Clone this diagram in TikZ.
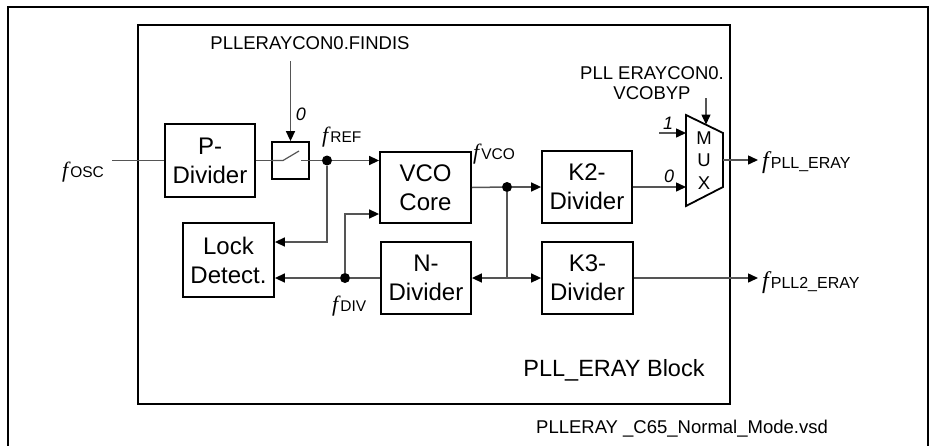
\documentclass[tikz,border=0pt]{standalone}
\usepackage{fontspec}
\setmainfont{Liberation Sans}
\newfontfamily\serifit{Liberation Serif}
\usetikzlibrary{arrows.meta,calc}
\definecolor{connc}{RGB}{85,85,85}
\newcommand\fq[3]{{\fontsize{#1}{#1}\selectfont\serifit\itshape f}\kern2pt{\fontsize{#2}{#2}\selectfont #3}}
\begin{document}
\begin{tikzpicture}[x=1pt,y=-1pt,
 blk/.style={draw,line width=1.8pt,inner sep=0pt,align=center,font=\fontsize{24}{29}\selectfont},
 conn/.style={draw=connc,line width=1.5pt},
 arr/.style={conn,-{Triangle[length=10pt,width=9pt,color=black]}},
 dot/.style={circle,fill=black,inner sep=0pt,minimum size=10pt},
 lab/.style={font=\fontsize{18.5}{20}\selectfont,inner sep=0pt},
 ital/.style={font=\fontsize{18}{18}\selectfont\itshape,inner sep=0pt},
 flab/.style={anchor=west,inner sep=0pt}]
\useasboundingbox (0,0) rectangle (929,445);
% frames
\draw[line width=2pt] (7.5,447) -- (7.5,7) -- (927.5,7) -- (927.5,447);
\draw[line width=2pt] (138,25) rectangle (730,404);
% blocks
\node[blk,minimum width=90pt,minimum height=73pt] (pdiv) at (210,160.5) {P-\\Divider};
\node[draw,line width=1.8pt,minimum size=37pt,inner sep=0pt] (sw) at (290.5,160.5) {};
\node[blk,minimum width=91pt,minimum height=71pt] (vco) at (425.5,187.5) {VCO\\Core};
\node[blk,minimum width=90pt,minimum height=72pt] (k2) at (587,187) {K2-\\Divider};
\node[blk,minimum width=91pt,minimum height=74pt] (lock) at (228.5,260) {Lock\\Detect.};
\node[blk,minimum width=90pt,minimum height=72pt] (ndiv) at (426,278) {N-\\Divider};
\node[blk,minimum width=91pt,minimum height=72pt] (k3) at (587.5,278) {K3-\\Divider};
% dots
\node[dot] (refdot) at (327,160.5) {};
\node[dot] (vcodot) at (507,187) {};
\node[dot] (divdot) at (345,278) {};
\coordinate (split) at (507,278);
% mux
\draw[line width=1.8pt] (686,115) -- (723,133) -- (723,187) -- (686,206) -- cycle;
\node[font=\fontsize{18.5}{22.5}\selectfont,align=center,inner sep=0pt] (muxtxt) at (704,160.5) {M\\U\\X};
\coordinate (mux1) at (686,133);
\coordinate (mux0) at (686,187);
\coordinate (muxout) at (723,160);
\coordinate (muxsel) at (706,124.5);
\coordinate (in1) at (659,133);
\coordinate (seltop) at (706,98);
\coordinate (out1) at (758,160);
\coordinate (out2) at (758,278);
\coordinate (oscin) at (112,160.5);
\coordinate (findtop) at (290.5,61);
\coordinate (swl) at (283,160.5);
\coordinate (swk) at (299,151);
\coordinate (swr) at (301,160.5);
% connectors
\draw[conn] (oscin) -- (pdiv.west);
\draw[conn] (pdiv.east) -- (sw.west);
\draw[conn,line width=1.2pt] (sw.west) -- (swl) -- (swk);
\draw[conn,line width=1.2pt] (swr) -- (sw.east);
\draw[conn] (sw.east) -- (refdot);
\draw[arr] (findtop) -- (sw.north);
\draw[arr] (refdot) -- (vco.west |- refdot);
\draw[arr] (refdot) |- ([yshift=18pt]lock.east);
\draw[conn] (ndiv.west) -- (divdot);
\draw[arr] (divdot) -- (lock.east |- divdot);
\draw[arr] (divdot) |- ([yshift=-26.5pt]vco.west);
\draw[conn] (vco.east) -- (vcodot);
\draw[arr] (vcodot) -- (k2.west);
\draw[conn] (vcodot) -- (split);
\draw[arr] (split) -- (ndiv.east);
\draw[arr] (split) -- (k3.west);
\draw[arr] (k2.east) -- (mux0);
\draw[arr] (in1) -- (mux1);
\draw[arr] (seltop) -- (muxsel);
\draw[arr] (muxout) -- (out1);
\draw[arr] (k3.east) -- (out2);
% labels
\node[lab] (findis) at (310,43) {PLLERAYCON0.FINDIS};
\node[lab,align=center] (vcobyp) at (652,83) {PLL ERAYCON0.\\VCOBYP};
\node[ital] (l0a) at (301,114) {0};
\node[ital] (l1) at (668,123) {1};
\node[ital] (l0b) at (669,176) {0};
\node[flab] (fosc) at (62,172) {\fq{22}{15.5}{OSC}};
\node[flab] (fref) at (322,137) {\fq{22}{15.5}{REF}};
\node[flab] (fvco) at (473,154) {\fq{22}{15.5}{VCO}};
\node[flab] (fdiv) at (332,306) {\fq{22}{15.5}{DIV}};
\node[flab] (fpll) at (762,163) {\fq{24}{16}{PLL\_ERAY}};
\node[flab] (fpll2) at (762,283) {\fq{24}{16}{PLL2\_ERAY}};
\node[font=\fontsize{23.5}{28}\selectfont,inner sep=0pt] (blockname) at (614,370) {PLL\_ERAY Block};
\node[font=\fontsize{18.5}{22}\selectfont,inner sep=0pt] (fname) at (682,429) {PLLERAY \_C65\_Normal\_Mode.vsd};
\end{tikzpicture}
\end{document}
